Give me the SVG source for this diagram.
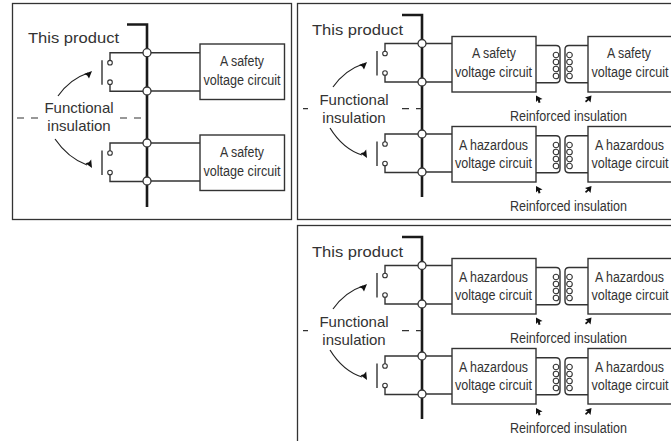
<svg xmlns="http://www.w3.org/2000/svg" width="671" height="441" viewBox="0 0 671 441">
<style>
.panel{fill:#fff;stroke:#333;stroke-width:1.3}
.box{fill:#fff;stroke:#333;stroke-width:1.4}
.w{fill:none;stroke:#333;stroke-width:1.4}
.bus{fill:none;stroke:#1a1a1a;stroke-width:2.6}
.dash{fill:none;stroke:#333;stroke-width:1.2;stroke-dasharray:7 7}
.node{fill:#fff;stroke:#333;stroke-width:1.3}
.contact{fill:#fff;stroke:#333;stroke-width:1.1}
.coil{fill:none;stroke:#333;stroke-width:1.1}
.arc{fill:none;stroke:#222;stroke-width:1.2}
.head{fill:#111}
text{font-family:"Liberation Sans",Arial,sans-serif;fill:#333}
.big{font-size:15px}
.small{font-size:14px}
</style>
<defs>
<g id="coil"><circle class="coil" cy="0" r="2.8"/><circle class="coil" cy="7" r="2.8"/><circle class="coil" cy="14" r="2.8"/><circle class="coil" cy="21" r="2.8"/></g>
<g id="sw"><path class="w" d="M0 0H-37V10M-37 29.500V38.500H0"/><path class="w" d="M-45 7.500V32"/><circle class="contact" cx="-37" cy="10" r="2.300"/><circle class="contact" cx="-37" cy="29.500" r="2.300"/></g>
<path id="tipL" class="head" d="M0 0L6.500 3.500L3.800 4.200L4.500 7L2.500 7.500L1.800 4.800L0 6.500Z"/>
<path id="tipR" class="head" d="M0 0L-1 7L-2.800 4.800L-5.500 7L-6.500 5.500L-4 3.500L-6.500 2Z"/>
<path id="arrowUp" class="head" d="M0 0L-3 7.500L-4.800 4.500L-8 3Z"/>
</defs>

<rect id="panel-a" class="panel" x="12.500" y="3.500" width="279" height="216"/>
<rect id="panel-b" class="panel" x="297.500" y="3.500" width="380" height="216"/>
<rect id="panel-c" class="panel" x="297.500" y="225.500" width="380" height="230"/>

<g id="connectors">
<path class="bus" d="M127 24.500H147V207"/>
<path class="dash" d="M17 118H38M120 118H147"/>
<use href="#sw" x="147" y="52.700"/>
<use href="#sw" x="147" y="143"/>
<path class="w" d="M147 52.700H200M147 91H200M147 143H200M147 181H200"/>
<path class="arc" d="M58 96Q70 79 88 73"/><use href="#arrowUp" x="92" y="71"/>
<path class="arc" d="M55 139Q68 158 87 165"/><use href="#arrowUp" transform="translate(92 168) rotate(105)"/>

<g id="links-b">
<path class="bus" d="M402 15H422V197"/>
<path class="dash" d="M303 108.700H308M402 108.700H422"/>
<use href="#sw" x="422" y="43.500"/>
<use href="#sw" x="422" y="134"/>
<path class="w" d="M422 43.500H452M422 82H452M422 134H452M422 172H452"/>
<path class="arc" d="M333 87Q345 70 363 64"/><use href="#arrowUp" x="367" y="62"/>
<path class="arc" d="M330 128Q343 149 362 155"/><use href="#arrowUp" transform="translate(367 158) rotate(105)"/>
<path class="w" d="M536 45.500H556Q560 45.500 560 49.500V78.700Q560 82.700 556 82.700H536M588 45.500H569Q565 45.500 565 49.500V78.700Q565 82.700 569 82.700H588"/>
<path class="w" d="M536 135.700H556Q560 135.700 560 139.700V168.700Q560 172.700 556 172.700H536M588 135.700H569Q565 135.700 565 139.700V168.700Q565 172.700 569 172.700H588"/>
<use href="#coil" x="556" y="55"/><use href="#coil" x="569.500" y="55"/>
<use href="#coil" x="556" y="145"/><use href="#coil" x="569.500" y="145"/>
<use href="#tipL" x="536" y="95.500"/><use href="#tipR" x="591.500" y="95.500"/>
<use href="#tipL" x="536" y="186"/><use href="#tipR" x="591.500" y="186"/>
</g>

<g id="links-c" transform="translate(0 222)">
<path class="bus" d="M402 15H422V197"/>
<path class="dash" d="M303 108.700H308M402 108.700H422"/>
<use href="#sw" x="422" y="43.500"/>
<use href="#sw" x="422" y="134"/>
<path class="w" d="M422 43.500H452M422 82H452M422 134H452M422 172H452"/>
<path class="arc" d="M333 87Q345 70 363 64"/><use href="#arrowUp" x="367" y="62"/>
<path class="arc" d="M330 128Q343 149 362 155"/><use href="#arrowUp" transform="translate(367 158) rotate(105)"/>
<path class="w" d="M536 45.500H556Q560 45.500 560 49.500V78.700Q560 82.700 556 82.700H536M588 45.500H569Q565 45.500 565 49.500V78.700Q565 82.700 569 82.700H588"/>
<path class="w" d="M536 135.700H556Q560 135.700 560 139.700V168.700Q560 172.700 556 172.700H536M588 135.700H569Q565 135.700 565 139.700V168.700Q565 172.700 569 172.700H588"/>
<use href="#coil" x="556" y="55"/><use href="#coil" x="569.500" y="55"/>
<use href="#coil" x="556" y="145"/><use href="#coil" x="569.500" y="145"/>
<use href="#tipL" x="536" y="95.500"/><use href="#tipR" x="591.500" y="95.500"/>
<use href="#tipL" x="536" y="186"/><use href="#tipR" x="591.500" y="186"/>
</g>
</g>

<g id="junctions">
<circle class="node" cx="147" cy="52.700" r="4"/><circle class="node" cx="147" cy="91" r="4"/><circle class="node" cx="147" cy="143" r="4"/><circle class="node" cx="147" cy="181" r="4"/>
<circle class="node" cx="422" cy="43.500" r="4"/><circle class="node" cx="422" cy="82" r="4"/><circle class="node" cx="422" cy="134" r="4"/><circle class="node" cx="422" cy="172" r="4"/>
<circle class="node" cx="422" cy="265.500" r="4"/><circle class="node" cx="422" cy="304" r="4"/><circle class="node" cx="422" cy="356" r="4"/><circle class="node" cx="422" cy="394" r="4"/>
</g>

<g id="labels-a">
<text class="big" x="28" y="43" textLength="91" lengthAdjust="spacingAndGlyphs">This product</text>
<text class="big" x="79" y="113" text-anchor="middle">Functional</text>
<text class="big" x="79" y="131" text-anchor="middle">insulation</text>
</g>
<g id="labels-b">
<text class="big" x="312" y="35" textLength="91" lengthAdjust="spacingAndGlyphs">This product</text>
<text class="big" x="354" y="105" text-anchor="middle">Functional</text>
<text class="big" x="354" y="123" text-anchor="middle">insulation</text>
<text class="small" x="510" y="120.500" textLength="117" lengthAdjust="spacingAndGlyphs">Reinforced insulation</text>
<text class="small" x="510" y="210.500" textLength="117" lengthAdjust="spacingAndGlyphs">Reinforced insulation</text>
</g>
<g id="labels-c">
<text class="big" x="312" y="257" textLength="91" lengthAdjust="spacingAndGlyphs">This product</text>
<text class="big" x="354" y="327" text-anchor="middle">Functional</text>
<text class="big" x="354" y="345" text-anchor="middle">insulation</text>
<text class="small" x="510" y="342.500" textLength="117" lengthAdjust="spacingAndGlyphs">Reinforced insulation</text>
<text class="small" x="510" y="432.500" textLength="117" lengthAdjust="spacingAndGlyphs">Reinforced insulation</text>
</g>

<g id="a-safety-1"><rect class="box" x="200" y="44" width="84.500" height="55.500"/><text class="small" x="220" y="66" textLength="44" lengthAdjust="spacingAndGlyphs">A safety</text><text class="small" x="203.500" y="85" textLength="77" lengthAdjust="spacingAndGlyphs">voltage circuit</text></g>
<g id="a-safety-2"><rect class="box" x="200" y="135" width="84.500" height="55.500"/><text class="small" x="220" y="157" textLength="44" lengthAdjust="spacingAndGlyphs">A safety</text><text class="small" x="203.500" y="176" textLength="77" lengthAdjust="spacingAndGlyphs">voltage circuit</text></g>

<g id="b-left-1"><rect class="box" x="452" y="36.500" width="84" height="55.500"/><text class="small" x="472" y="58" textLength="44" lengthAdjust="spacingAndGlyphs">A safety</text><text class="small" x="455" y="76.500" textLength="77" lengthAdjust="spacingAndGlyphs">voltage circuit</text></g>
<g id="b-left-2"><rect class="box" x="452" y="126.500" width="84" height="55.500"/><text class="small" x="459" y="150" textLength="69" lengthAdjust="spacingAndGlyphs">A hazardous</text><text class="small" x="455" y="168" textLength="77" lengthAdjust="spacingAndGlyphs">voltage circuit</text></g>
<g id="b-right-1"><rect class="box" x="588" y="36.500" width="95" height="55.500"/><text class="small" x="607" y="58" textLength="44" lengthAdjust="spacingAndGlyphs">A safety</text><text class="small" x="591.500" y="76.500" textLength="77" lengthAdjust="spacingAndGlyphs">voltage circuit</text></g>
<g id="b-right-2"><rect class="box" x="588" y="126.500" width="95" height="55.500"/><text class="small" x="595" y="150" textLength="69" lengthAdjust="spacingAndGlyphs">A hazardous</text><text class="small" x="591.500" y="168" textLength="77" lengthAdjust="spacingAndGlyphs">voltage circuit</text></g>

<g id="c-left-1"><rect class="box" x="452" y="258.500" width="84" height="55.500"/><text class="small" x="459" y="282" textLength="69" lengthAdjust="spacingAndGlyphs">A hazardous</text><text class="small" x="455" y="300" textLength="77" lengthAdjust="spacingAndGlyphs">voltage circuit</text></g>
<g id="c-left-2"><rect class="box" x="452" y="348.500" width="84" height="55.500"/><text class="small" x="459" y="372" textLength="69" lengthAdjust="spacingAndGlyphs">A hazardous</text><text class="small" x="455" y="390" textLength="77" lengthAdjust="spacingAndGlyphs">voltage circuit</text></g>
<g id="c-right-1"><rect class="box" x="588" y="258.500" width="95" height="55.500"/><text class="small" x="595" y="282" textLength="69" lengthAdjust="spacingAndGlyphs">A hazardous</text><text class="small" x="591.500" y="300" textLength="77" lengthAdjust="spacingAndGlyphs">voltage circuit</text></g>
<g id="c-right-2"><rect class="box" x="588" y="348.500" width="95" height="55.500"/><text class="small" x="595" y="372" textLength="69" lengthAdjust="spacingAndGlyphs">A hazardous</text><text class="small" x="591.500" y="390" textLength="77" lengthAdjust="spacingAndGlyphs">voltage circuit</text></g>
</svg>
